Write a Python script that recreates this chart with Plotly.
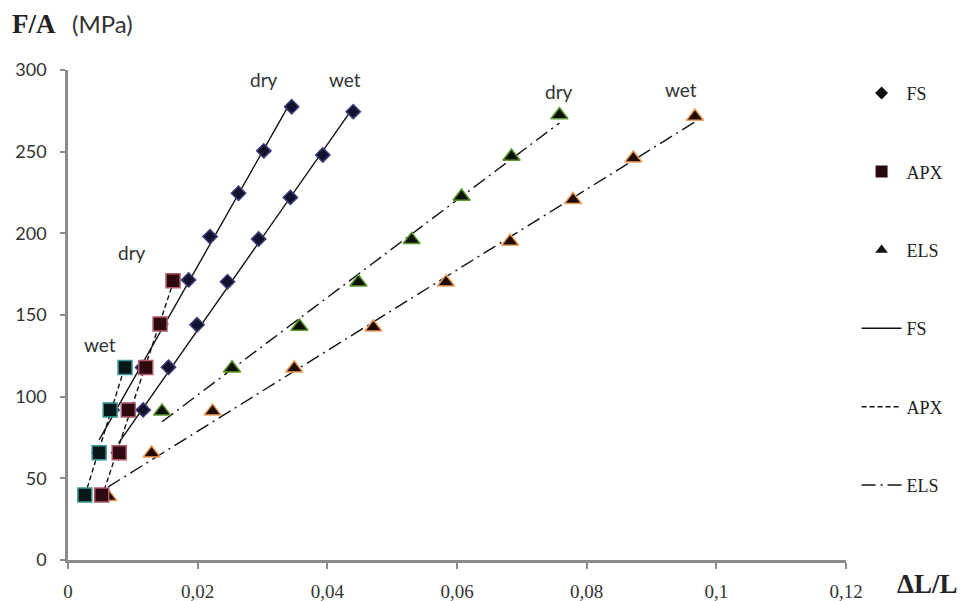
import numpy as np
import plotly.graph_objects as go

# ---- data ----
fs_dry_x = [0.0048, 0.0068, 0.0115, 0.0143, 0.0186, 0.0219, 0.0263, 0.0302, 0.0345]
fs_dry_y = [65.7, 91.9, 117.9, 144.5, 171.5, 198.0, 224.5, 250.5, 277.5]
fs_wet_x = [0.0078, 0.0116, 0.0155, 0.0199, 0.0246, 0.0294, 0.0343, 0.0393, 0.0440]
fs_wet_y = [65.7, 91.9, 118.0, 144.0, 170.4, 196.5, 222.0, 248.0, 274.5]
apx_dry_x = [0.0052, 0.0079, 0.0093, 0.0120, 0.0142, 0.0162]
apx_dry_y = [39.8, 65.7, 91.9, 117.9, 144.5, 171.0]
apx_wet_x = [0.0026, 0.0048, 0.0065, 0.0088]
apx_wet_y = [39.8, 65.7, 91.9, 117.9]
els_dry_x = [0.0145, 0.0253, 0.0357, 0.0448, 0.0530, 0.0607, 0.0684, 0.0758]
els_dry_y = [91.0, 117.4, 143.0, 170.0, 196.0, 222.5, 247.0, 272.5]
els_wet_x = [0.0062, 0.0129, 0.0223, 0.0349, 0.0471, 0.0583, 0.0682, 0.0779, 0.0872, 0.0967]
els_wet_y = [38.8, 65.3, 91.0, 117.4, 142.5, 170.0, 195.0, 220.5, 246.0, 271.5]

x_ticks = [0, 0.02, 0.04, 0.06, 0.08, 0.1, 0.12]
x_tick_labels = ["0", "0,02", "0,04", "0,06", "0,08", "0,1", "0,12"]
y_ticks = [0, 50, 100, 150, 200, 250, 300]

legend_names = ["FS", "APX", "ELS"]

SERIF = "Liberation Serif"
SANS = "Lato"

fig = go.Figure()

def trend(xs, ys):
    k, b = np.polyfit(xs, ys, 1)
    xx = np.array([min(xs), max(xs)])
    return xx, k * xx + b

line_dash = {"FS": "solid", "APX": "5px,3px", "ELS": "14px,5px,2px,5px"}

# trend lines (drawn first, under the markers)
for name, xs, ys in [("FS", fs_dry_x, fs_dry_y), ("FS", fs_wet_x, fs_wet_y),
                     ("APX", apx_dry_x, apx_dry_y), ("APX", apx_wet_x, apx_wet_y),
                     ("ELS", els_dry_x, els_dry_y), ("ELS", els_wet_x, els_wet_y)]:
    tx, ty = trend(xs, ys)
    fig.add_trace(go.Scatter(x=tx, y=ty, mode="lines", showlegend=False,
                             line=dict(color="#111111", width=1.4, dash=line_dash[name]),
                             hoverinfo="skip"))

# marker series
def mk(xs, ys, symbol, size, fill, edge):
    fig.add_trace(go.Scatter(x=xs, y=ys, mode="markers", showlegend=False,
                             marker=dict(symbol=symbol, size=size, color=fill,
                                         line=dict(color=edge, width=1.5))))

mk(fs_dry_x, fs_dry_y, "diamond", 11, "#12122e", "#3c3c78")
mk(fs_wet_x, fs_wet_y, "diamond", 11, "#12122e", "#3c3c78")
mk(els_dry_x, els_dry_y, "triangle-up", 15, "#0c1208", "#5c9a2c")
mk(els_wet_x, els_wet_y, "triangle-up", 15, "#220a04", "#f0a060")
mk(apx_dry_x, apx_dry_y, "square", 14, "#2e0a10", "#b05a6a")
mk(apx_wet_x, apx_wet_y, "square", 14, "#081818", "#3c9a96")

# legend entries
legend_markers = {"FS": ("diamond", 10, "#111111"),
                  "APX": ("square", 12, "#2a0810"),
                  "ELS": ("triangle-up", 11, "#111111")}
for n in legend_names:
    s, sz, c = legend_markers[n]
    fig.add_trace(go.Scatter(x=[None], y=[None], mode="markers", name=n,
                             legendgroup="m" + n,
                             marker=dict(symbol=s, size=sz, color=c)))
for n in legend_names:
    fig.add_trace(go.Scatter(x=[None], y=[None], mode="lines", name=n,
                             legendgroup="l" + n,
                             line=dict(color="#111111", width=1.5, dash=line_dash[n])))

# dry / wet labels
labels = [("dry", 0.0303, 294), ("wet", 0.0428, 294),
          ("dry", 0.0758, 287), ("wet", 0.0945, 288),
          ("dry", 0.0098, 188), ("wet", 0.0049, 132)]
for t, lx, ly in labels:
    fig.add_annotation(x=lx, y=ly, text=t, showarrow=False,
                       font=dict(family=SANS, size=19, color="#333333"))

# axis titles
fig.add_annotation(xref="paper", yref="paper", x=-0.074, y=1.094, xanchor="left",
                   yanchor="middle", text="<b>F/A</b>", showarrow=False,
                   font=dict(family=SERIF, size=27, color="#222222"))
fig.add_annotation(xref="paper", yref="paper", x=0.003, y=1.094, xanchor="left",
                   yanchor="middle", text="(MPa)", showarrow=False,
                   font=dict(family=SANS, size=24, color="#333333"))
fig.add_annotation(xref="paper", yref="paper", x=1.063, y=-0.049, xanchor="left",
                   yanchor="middle", text="<b>ΔL/L</b>", showarrow=False,
                   font=dict(family=SERIF, size=27, color="#222222"))

axis_col = "#8c8c8c"
fig.update_layout(
    width=974, height=601,
    margin=dict(l=68, r=128, t=70, b=41),
    paper_bgcolor="white", plot_bgcolor="white",
    showlegend=True,
    legend=dict(x=1.0136, xanchor="left", y=0.99, yanchor="top",
                font=dict(family=SERIF, size=18, color="#222222"),
                tracegroupgap=52, bgcolor="rgba(0,0,0,0)", itemwidth=40),
    xaxis=dict(range=[0, 0.12], tickvals=x_ticks, ticktext=x_tick_labels,
               showgrid=False, zeroline=False, showline=True, linecolor=axis_col,
               linewidth=2.5, ticks="outside", ticklen=6, tickcolor=axis_col, tickwidth=2,
               ticklabelstandoff=6, automargin=False,
               tickfont=dict(family=SERIF, size=19, color="#333333")),
    yaxis=dict(range=[0, 300], tickvals=y_ticks,
               showgrid=False, zeroline=False, showline=True, linecolor=axis_col,
               linewidth=2.5, ticks="outside", ticklen=5, tickcolor=axis_col, tickwidth=2,
               ticklabelstandoff=10, automargin=False,
               tickfont=dict(family=SANS, size=18, color="#333333")),
)

fig.write_html("out.html", config={"displayModeBar": False},
               post_script="document.body.style.margin='0px';")
